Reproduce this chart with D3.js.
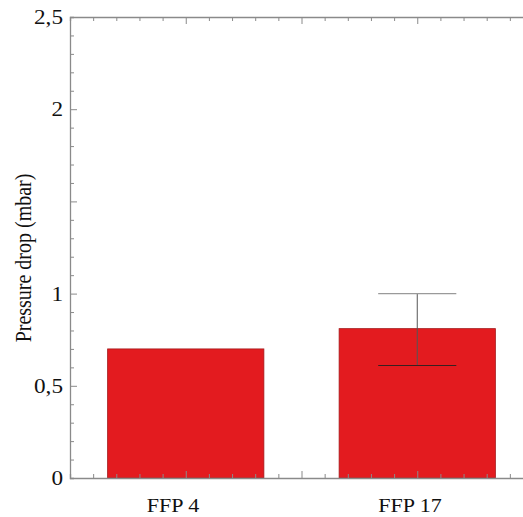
<!DOCTYPE html>
<html>
<head>
<meta charset="utf-8">
<script src="https://cdn.jsdelivr.net/npm/d3@7"></script>
<style>
  body { margin: 0; background: #fff; }
  svg { display: block; }
  text { font-family: "Liberation Serif", "Times New Roman", serif; fill: #111; }
</style>
</head>
<body>
<div id="chart"></div>
<script>
// categories sit on a numeric x axis (1, 2), like the original plot
var categories = ['FFP 4', 'FFP 17'];
var catPos = [1, 2];
var values = [0.70, 0.81];
var errLow = [null, 0.61];
var errHigh = [null, 1.0];
var yTickLabels = [0, 0.5, 1, 2, 2.5];

(function() {
  var width = 523, height = 517;
  var left = 70, plotTop = 17, bottom = 478;
  var stretch = 1.16; // the source figure is a bit wider than tall

  var svg = d3.select('#chart').append('svg')
    .attr('width', width)
    .attr('height', height);

  var x = d3.scaleLinear().domain([0.5, 2.5]).range([left, left + 4 * 115.75]);
  var y = d3.scaleLinear().domain([0, 2.5]).range([bottom, plotTop]);

  var axisColor = '#8a8a8a';
  var barWidth = x(1.675) - x(1); // bar is ~0.675 units wide

  // bars
  svg.append('g').selectAll('rect')
    .data(values)
    .enter().append('rect')
    .attr('x', function(d, i) { return x(catPos[i]) - barWidth / 2; })
    .attr('y', function(d) { return y(d); })
    .attr('width', barWidth)
    .attr('height', function(d) { return y(0) - y(d); })
    .attr('fill', '#e31b1f')
    .attr('stroke', '#a4191b')
    .attr('stroke-width', 0.8);

  // error bars
  var eb = svg.append('g').selectAll('g')
    .data(values.map(function(d, i) { return i; }).filter(function(i) { return errHigh[i] != null; }))
    .enter().append('g');

  eb.append('line')
    .attr('x1', function(i) { return x(catPos[i]); })
    .attr('x2', function(i) { return x(catPos[i]); })
    .attr('y1', function(i) { return y(errLow[i]); })
    .attr('y2', function(i) { return y(errHigh[i]); })
    .attr('stroke', '#555').attr('stroke-width', 1);

  [errLow, errHigh].forEach(function(arr, k) {
    eb.append('line')
      .attr('x1', function(i) { return x(catPos[i]) - barWidth / 4; })
      .attr('x2', function(i) { return x(catPos[i]) + barWidth / 4; })
      .attr('y1', function(i) { return y(arr[i]); })
      .attr('y2', function(i) { return y(arr[i]); })
      .attr('stroke', k === 0 ? '#3a2020' : '#9a9a9a').attr('stroke-width', 1.2);
  });

  // axes: ticks pointing inward, minor every 0.1, major every 0.5
  var yMinor = d3.range(0, 2.5001, 0.1);
  var xMinor = d3.range(0.6, 2.5001, 0.1);
  function isMajor(v) { return Math.abs(v * 2 - Math.round(v * 2)) < 1e-6; }

  var fmt = function(v) { return String(v).replace('.', ','); };

  var yAxis = svg.append('g')
    .attr('transform', 'translate(' + left + ',0)')
    .call(d3.axisRight(y).tickValues(yMinor).tickFormat('').tickSizeOuter(0).tickSize(4));
  yAxis.selectAll('.tick line').attr('x2', function(d) { return isMajor(d) ? 7 : 4; });
  yAxis.selectAll('.tick').filter(function(d) { return d < 1e-6; }).select('line').remove();

  svg.append('g').selectAll('text')
    .data(yTickLabels)
    .enter().append('text')
    .attr('transform', function(d) {
      return 'translate(' + (left - 7) + ',' + (y(d) + 7) + ') scale(' + stretch + ',1)';
    })
    .attr('text-anchor', 'end')
    .style('font-size', '20px')
    .text(fmt);

  var xAxis = svg.append('g')
    .attr('transform', 'translate(0,' + bottom + ')')
    .call(d3.axisTop(x).tickValues(xMinor).tickFormat('').tickSizeOuter(0).tickSize(4));
  xAxis.selectAll('.tick line').attr('y2', function(d) { return isMajor(d) ? -7 : -4; });

  var topAxis = svg.append('g')
    .attr('transform', 'translate(0,' + plotTop + ')')
    .call(d3.axisBottom(x).tickValues(xMinor).tickFormat('').tickSizeOuter(0).tickSize(4));
  topAxis.selectAll('.tick line').attr('y2', function(d) { return isMajor(d) ? 7 : 4; });

  svg.selectAll('.domain, .tick line').attr('stroke', axisColor);
  svg.selectAll('.domain').attr('stroke-width', 1.3);

  // category labels
  svg.append('g').selectAll('text')
    .data(categories)
    .enter().append('text')
    .attr('transform', function(d, i) {
      return 'translate(' + (x(catPos[i]) - 39) + ',512) scale(' + stretch + ',1)';
    })
    .style('font-size', '19px')
    .text(function(d) { return d; });

  // y title
  svg.append('text')
    .attr('transform', 'translate(31,258) scale(' + stretch + ',1) rotate(-90)')
    .attr('text-anchor', 'middle')
    .style('font-size', '20px')
    .text('Pressure drop (mbar)');
})();
</script>
</body>
</html>
